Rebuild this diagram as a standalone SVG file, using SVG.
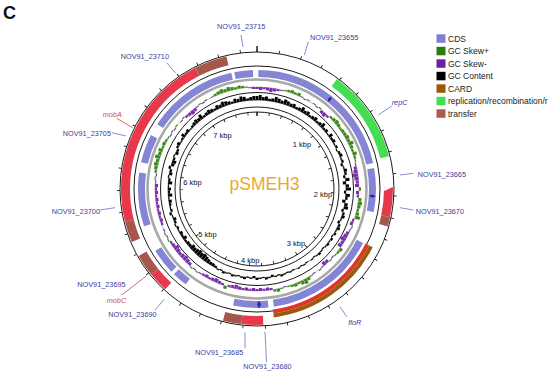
<svg xmlns="http://www.w3.org/2000/svg" width="550" height="374" viewBox="0 0 550 374">
<style>
text{font-family:"Liberation Sans",Arial,sans-serif}
.lb{font-size:7.3px;fill:#40409a}
.it{font-style:italic}
.red{fill:#c85050}
.kb{font-size:7.5px;fill:#111;text-anchor:middle}
.lg{font-size:8.5px;fill:#222}
.ring{fill:none;stroke:#000;stroke-width:0.9}
.arc{fill:none}
.cds{stroke:#8585d6;stroke-width:7}
.tr{stroke:#e8384c;stroke-width:9}
.trb{stroke:#a4574a;stroke-width:9}
.rep{stroke:#47dd52;stroke-width:9}
.card{stroke:#9a5a0e;stroke-width:4}
.cardr{stroke:#e0362a;stroke-width:4}
.gcc path{stroke:#000;stroke-width:2.9;fill:none}
.skp path{stroke:#3a8a14;stroke-width:3.3;fill:none}
.skn path{stroke:#7d2eb0;stroke-width:3.3;fill:none}
.ptr{stroke:#6e6ec0;stroke-width:0.8;fill:none}
.ptrr{stroke:#b84a4a;stroke-width:0.8;fill:none}
</style>
<rect width="550" height="374" fill="#fff"/>
<text x="3" y="18.5" font-size="18" font-weight="bold" fill="#111">C</text>

<g id="map" transform="translate(257,189)">
  <g id="backbone">
    <circle class="ring" r="137"/>
    <circle class="ring" r="123"/>
    <circle r="109.5" fill="none" stroke="#a8a8a8" stroke-width="2.6"/>
    <circle class="ring" r="96.5"/>
    <circle class="ring" r="82"/>
    <circle class="ring" r="77"/>
    <circle r="102" fill="none" stroke="#7a7a7a" stroke-width="0.5"/>
    <circle r="89" fill="none" stroke="#000" stroke-width="0.6"/>
    <g transform="rotate(-90)">
      <circle r="138.5" pathLength="7750" fill="none" stroke="#000" stroke-width="3" stroke-dasharray="7 193" stroke-dashoffset="3.5"/>
      <circle r="75.5" pathLength="7750" fill="none" stroke="#000" stroke-width="3" stroke-dasharray="12 188" stroke-dashoffset="6"/>
    </g>
    <path d="M0-137v-6M0-77v4" stroke="#000" stroke-width="1.3"/>
  </g>

  <g id="gc-content" class="gcc">
    <path transform="rotate(0)" d="M0-89v-4"/><path transform="rotate(2)" d="M0-89v-5"/><path transform="rotate(4)" d="M0-89v-3"/><path transform="rotate(6)" d="M0-89v-4"/><path transform="rotate(8)" d="M0-89v-2"/><path transform="rotate(10)" d="M0-89v-3"/><path transform="rotate(12)" d="M0-89v-5"/><path transform="rotate(14)" d="M0-89v-4"/><path transform="rotate(16)" d="M0-89v-3"/><path transform="rotate(18)" d="M0-89v-5"/><path transform="rotate(20)" d="M0-89v-4"/><path transform="rotate(22)" d="M0-89v-3"/><path transform="rotate(24)" d="M0-89v-4"/><path transform="rotate(26)" d="M0-89v-2"/><path transform="rotate(28)" d="M0-89v-3"/><path transform="rotate(30)" d="M0-89v-5"/><path transform="rotate(32)" d="M0-89v-3"/><path transform="rotate(34)" d="M0-89v-4"/><path transform="rotate(36)" d="M0-89v-2"/><path transform="rotate(38)" d="M0-89v-3"/><path transform="rotate(40)" d="M0-89v-4"/><path transform="rotate(42)" d="M0-89v-2"/><path transform="rotate(44)" d="M0-89v-3"/><path transform="rotate(46)" d="M0-89v-5"/><path transform="rotate(48)" d="M0-89v-2"/><path transform="rotate(50)" d="M0-89v-3"/><path transform="rotate(52)" d="M0-89v-1"/><path transform="rotate(54)" d="M0-89v-4"/><path transform="rotate(56)" d="M0-89v-2"/><path transform="rotate(58)" d="M0-89v-3"/><path transform="rotate(60)" d="M0-89v-1"/><path transform="rotate(62)" d="M0-89v-2"/><path transform="rotate(66)" d="M0-89v-2"/><path transform="rotate(68)" d="M0-89v-3"/><path transform="rotate(70)" d="M0-89v-1"/><path transform="rotate(72)" d="M0-89v-2"/><path transform="rotate(76)" d="M0-89v-1"/><path transform="rotate(78)" d="M0-89v-3"/><path transform="rotate(80)" d="M0-89v-2"/><path transform="rotate(84)" d="M0-89v-4"/><path transform="rotate(88)" d="M0-89v-3"/><path transform="rotate(90)" d="M0-89v-5"/><path transform="rotate(94)" d="M0-89v-4"/><path transform="rotate(96)" d="M0-89v-2"/><path transform="rotate(100)" d="M0-89v-3"/><path transform="rotate(102)" d="M0-89v-4"/><path transform="rotate(106)" d="M0-89v-2"/><path transform="rotate(108)" d="M0-89v-3"/><path transform="rotate(110)" d="M0-89v-1"/><path transform="rotate(114)" d="M0-89v-2"/><path transform="rotate(116)" d="M0-89v-3"/><path transform="rotate(118)" d="M0-89v-1"/><path transform="rotate(120)" d="M0-89v-2"/><path transform="rotate(124)" d="M0-89v-2"/><path transform="rotate(126)" d="M0-89v-1"/><path transform="rotate(128)" d="M0-89v-2"/><path transform="rotate(130)" d="M0-89v-1"/><path transform="rotate(134)" d="M0-89v-1"/><path transform="rotate(136)" d="M0-89v-2"/><path transform="rotate(138)" d="M0-89v-1"/><path transform="rotate(142)" d="M0-89v-1"/><path transform="rotate(148)" d="M0-89v-1"/><path transform="rotate(152)" d="M0-89v-1"/><path transform="rotate(158)" d="M0-89v-1"/><path transform="rotate(162)" d="M0-89v-1"/><path transform="rotate(164)" d="M0-89v-2"/><path transform="rotate(168)" d="M0-89v-1"/><path transform="rotate(172)" d="M0-89v-1"/><path transform="rotate(174)" d="M0-89v-2"/><path transform="rotate(178)" d="M0-89v-1"/><path transform="rotate(180)" d="M0-89v-2"/><path transform="rotate(184)" d="M0-89v-1"/><path transform="rotate(188)" d="M0-89v-2"/><path transform="rotate(190)" d="M0-89v-1"/><path transform="rotate(194)" d="M0-89v-1"/><path transform="rotate(196)" d="M0-89v-2"/><path transform="rotate(200)" d="M0-89v-1"/><path transform="rotate(202)" d="M0-89v-2"/><path transform="rotate(206)" d="M0-89v-1"/><path transform="rotate(246)" d="M0-89v-1"/><path transform="rotate(254)" d="M0-89v-2"/><path transform="rotate(278)" d="M0-89v-1"/><path transform="rotate(284)" d="M0-89v-2"/><path transform="rotate(292)" d="M0-89v-1"/><path transform="rotate(298)" d="M0-89v-2"/><path transform="rotate(300)" d="M0-89v-3"/><path transform="rotate(302)" d="M0-89v-1"/><path transform="rotate(304)" d="M0-89v-2"/><path transform="rotate(306)" d="M0-89v-4"/><path transform="rotate(308)" d="M0-89v-2"/><path transform="rotate(310)" d="M0-89v-3"/><path transform="rotate(312)" d="M0-89v-1"/><path transform="rotate(314)" d="M0-89v-2"/><path transform="rotate(316)" d="M0-89v-3"/><path transform="rotate(318)" d="M0-89v-4"/><path transform="rotate(320)" d="M0-89v-3"/><path transform="rotate(322)" d="M0-89v-5"/><path transform="rotate(324)" d="M0-89v-2"/><path transform="rotate(326)" d="M0-89v-3"/><path transform="rotate(328)" d="M0-89v-4"/><path transform="rotate(330)" d="M0-89v-3"/><path transform="rotate(332)" d="M0-89v-2"/><path transform="rotate(334)" d="M0-89v-4"/><path transform="rotate(336)" d="M0-89v-3"/><path transform="rotate(338)" d="M0-89v-5"/><path transform="rotate(340)" d="M0-89v-4"/><path transform="rotate(342)" d="M0-89v-3"/><path transform="rotate(344)" d="M0-89v-2"/><path transform="rotate(346)" d="M0-89v-4"/><path transform="rotate(348)" d="M0-89v-3"/><path transform="rotate(350)" d="M0-89v-5"/><path transform="rotate(352)" d="M0-89v-4"/><path transform="rotate(354)" d="M0-89v-2"/><path transform="rotate(356)" d="M0-89v-3"/><path transform="rotate(358)" d="M0-89v-4"/>
    <path transform="rotate(64)" d="M0-89v1"/><path transform="rotate(74)" d="M0-89v2"/><path transform="rotate(82)" d="M0-89v2"/><path transform="rotate(86)" d="M0-89v3"/><path transform="rotate(92)" d="M0-89v2"/><path transform="rotate(98)" d="M0-89v3"/><path transform="rotate(104)" d="M0-89v2"/><path transform="rotate(112)" d="M0-89v2"/><path transform="rotate(122)" d="M0-89v1"/><path transform="rotate(132)" d="M0-89v1"/><path transform="rotate(140)" d="M0-89v1"/><path transform="rotate(146)" d="M0-89v1"/><path transform="rotate(150)" d="M0-89v1"/><path transform="rotate(156)" d="M0-89v1"/><path transform="rotate(160)" d="M0-89v1"/><path transform="rotate(166)" d="M0-89v1"/><path transform="rotate(170)" d="M0-89v2"/><path transform="rotate(176)" d="M0-89v1"/><path transform="rotate(182)" d="M0-89v2"/><path transform="rotate(186)" d="M0-89v1"/><path transform="rotate(192)" d="M0-89v1"/><path transform="rotate(198)" d="M0-89v1"/><path transform="rotate(204)" d="M0-89v1"/><path transform="rotate(208)" d="M0-89v2"/><path transform="rotate(210)" d="M0-89v3"/><path transform="rotate(212)" d="M0-89v3"/><path transform="rotate(214)" d="M0-89v4"/><path transform="rotate(216)" d="M0-89v5"/><path transform="rotate(218)" d="M0-89v6"/><path transform="rotate(220)" d="M0-89v5"/><path transform="rotate(222)" d="M0-89v6"/><path transform="rotate(224)" d="M0-89v5"/><path transform="rotate(226)" d="M0-89v4"/><path transform="rotate(228)" d="M0-89v5"/><path transform="rotate(230)" d="M0-89v3"/><path transform="rotate(232)" d="M0-89v3"/><path transform="rotate(234)" d="M0-89v2"/><path transform="rotate(236)" d="M0-89v4"/><path transform="rotate(238)" d="M0-89v2"/><path transform="rotate(240)" d="M0-89v3"/><path transform="rotate(242)" d="M0-89v1"/><path transform="rotate(244)" d="M0-89v2"/><path transform="rotate(248)" d="M0-89v2"/><path transform="rotate(250)" d="M0-89v3"/><path transform="rotate(252)" d="M0-89v1"/><path transform="rotate(256)" d="M0-89v2"/><path transform="rotate(258)" d="M0-89v1"/><path transform="rotate(260)" d="M0-89v2"/><path transform="rotate(262)" d="M0-89v3"/><path transform="rotate(264)" d="M0-89v1"/><path transform="rotate(266)" d="M0-89v4"/><path transform="rotate(268)" d="M0-89v2"/><path transform="rotate(270)" d="M0-89v3"/><path transform="rotate(272)" d="M0-89v1"/><path transform="rotate(274)" d="M0-89v4"/><path transform="rotate(276)" d="M0-89v2"/><path transform="rotate(280)" d="M0-89v3"/><path transform="rotate(282)" d="M0-89v2"/><path transform="rotate(286)" d="M0-89v3"/><path transform="rotate(288)" d="M0-89v4"/><path transform="rotate(290)" d="M0-89v2"/><path transform="rotate(294)" d="M0-89v3"/><path transform="rotate(296)" d="M0-89v2"/>
  </g>

  <g id="gc-skew-plus" class="skp">
    <path transform="rotate(16)" d="M0-102v-1"/><path transform="rotate(18)" d="M0-102v-2"/><path transform="rotate(20)" d="M0-102v-3"/><path transform="rotate(22)" d="M0-102v-2"/><path transform="rotate(24)" d="M0-102v-3"/><path transform="rotate(26)" d="M0-102v-1"/><path transform="rotate(30)" d="M0-102v-1"/><path transform="rotate(34)" d="M0-102v-1"/><path transform="rotate(38)" d="M0-102v-1"/><path transform="rotate(46)" d="M0-102v-2"/><path transform="rotate(48)" d="M0-102v-3"/><path transform="rotate(50)" d="M0-102v-4"/><path transform="rotate(52)" d="M0-102v-3"/><path transform="rotate(54)" d="M0-102v-2"/><path transform="rotate(56)" d="M0-102v-3"/><path transform="rotate(58)" d="M0-102v-3"/><path transform="rotate(60)" d="M0-102v-4"/><path transform="rotate(62)" d="M0-102v-3"/><path transform="rotate(64)" d="M0-102v-5"/><path transform="rotate(66)" d="M0-102v-3"/><path transform="rotate(68)" d="M0-102v-2"/><path transform="rotate(70)" d="M0-102v-4"/><path transform="rotate(72)" d="M0-102v-2"/><path transform="rotate(74)" d="M0-102v-1"/><path transform="rotate(90)" d="M0-102v-2"/><path transform="rotate(96)" d="M0-102v-3"/><path transform="rotate(98)" d="M0-102v-4"/><path transform="rotate(100)" d="M0-102v-3"/><path transform="rotate(102)" d="M0-102v-2"/><path transform="rotate(104)" d="M0-102v-3"/><path transform="rotate(106)" d="M0-102v-5"/><path transform="rotate(112)" d="M0-102v-1"/><path transform="rotate(126)" d="M0-102v-3"/><path transform="rotate(128)" d="M0-102v-2"/><path transform="rotate(130)" d="M0-102v-1"/><path transform="rotate(134)" d="M0-102v-1"/><path transform="rotate(142)" d="M0-102v-1"/><path transform="rotate(148)" d="M0-102v-1"/><path transform="rotate(150)" d="M0-102v-3"/><path transform="rotate(152)" d="M0-102v-5"/><path transform="rotate(154)" d="M0-102v-4"/><path transform="rotate(156)" d="M0-102v-2"/><path transform="rotate(158)" d="M0-102v-3"/><path transform="rotate(160)" d="M0-102v-2"/><path transform="rotate(162)" d="M0-102v-1"/><path transform="rotate(166)" d="M0-102v-1"/><path transform="rotate(168)" d="M0-102v-3"/><path transform="rotate(170)" d="M0-102v-2"/><path transform="rotate(198)" d="M0-102v-3"/><path transform="rotate(216)" d="M0-102v-1"/><path transform="rotate(220)" d="M0-102v-1"/><path transform="rotate(240)" d="M0-102v-1"/><path transform="rotate(244)" d="M0-102v-1"/><path transform="rotate(276)" d="M0-102v-1"/><path transform="rotate(280)" d="M0-102v-2"/><path transform="rotate(282)" d="M0-102v-3"/><path transform="rotate(284)" d="M0-102v-4"/><path transform="rotate(286)" d="M0-102v-3"/><path transform="rotate(288)" d="M0-102v-5"/><path transform="rotate(290)" d="M0-102v-3"/><path transform="rotate(292)" d="M0-102v-4"/><path transform="rotate(294)" d="M0-102v-2"/><path transform="rotate(296)" d="M0-102v-3"/><path transform="rotate(298)" d="M0-102v-2"/><path transform="rotate(300)" d="M0-102v-1"/><path transform="rotate(304)" d="M0-102v-1"/><path transform="rotate(308)" d="M0-102v-1"/><path transform="rotate(314)" d="M0-102v-1"/><path transform="rotate(326)" d="M0-102v-1"/><path transform="rotate(330)" d="M0-102v-1"/><path transform="rotate(334)" d="M0-102v-1"/><path transform="rotate(336)" d="M0-102v-2"/><path transform="rotate(338)" d="M0-102v-3"/><path transform="rotate(340)" d="M0-102v-4"/><path transform="rotate(342)" d="M0-102v-3"/><path transform="rotate(344)" d="M0-102v-4"/><path transform="rotate(346)" d="M0-102v-3"/><path transform="rotate(348)" d="M0-102v-2"/><path transform="rotate(350)" d="M0-102v-3"/><path transform="rotate(352)" d="M0-102v-2"/><path transform="rotate(354)" d="M0-102v-1"/>
  </g>
  <g id="gc-skew-minus" class="skn">
    <path transform="rotate(0)" d="M0-102v2"/><path transform="rotate(2)" d="M0-102v3"/><path transform="rotate(4)" d="M0-102v2"/><path transform="rotate(6)" d="M0-102v3"/><path transform="rotate(8)" d="M0-102v4"/><path transform="rotate(10)" d="M0-102v3"/><path transform="rotate(12)" d="M0-102v2"/><path transform="rotate(14)" d="M0-102v1"/><path transform="rotate(28)" d="M0-102v1"/><path transform="rotate(36)" d="M0-102v1"/><path transform="rotate(40)" d="M0-102v3"/><path transform="rotate(42)" d="M0-102v4"/><path transform="rotate(44)" d="M0-102v2"/><path transform="rotate(76)" d="M0-102v1"/><path transform="rotate(78)" d="M0-102v3"/><path transform="rotate(80)" d="M0-102v4"/><path transform="rotate(82)" d="M0-102v5"/><path transform="rotate(84)" d="M0-102v4"/><path transform="rotate(86)" d="M0-102v3"/><path transform="rotate(88)" d="M0-102v4"/><path transform="rotate(92)" d="M0-102v3"/><path transform="rotate(94)" d="M0-102v2"/><path transform="rotate(108)" d="M0-102v2"/><path transform="rotate(110)" d="M0-102v3"/><path transform="rotate(114)" d="M0-102v1"/><path transform="rotate(116)" d="M0-102v3"/><path transform="rotate(118)" d="M0-102v4"/><path transform="rotate(120)" d="M0-102v5"/><path transform="rotate(122)" d="M0-102v3"/><path transform="rotate(124)" d="M0-102v4"/><path transform="rotate(132)" d="M0-102v1"/><path transform="rotate(136)" d="M0-102v3"/><path transform="rotate(138)" d="M0-102v4"/><path transform="rotate(140)" d="M0-102v1"/><path transform="rotate(146)" d="M0-102v1"/><path transform="rotate(164)" d="M0-102v1"/><path transform="rotate(172)" d="M0-102v2"/><path transform="rotate(174)" d="M0-102v3"/><path transform="rotate(176)" d="M0-102v2"/><path transform="rotate(178)" d="M0-102v3"/><path transform="rotate(180)" d="M0-102v2"/><path transform="rotate(182)" d="M0-102v3"/><path transform="rotate(184)" d="M0-102v2"/><path transform="rotate(186)" d="M0-102v3"/><path transform="rotate(188)" d="M0-102v2"/><path transform="rotate(190)" d="M0-102v3"/><path transform="rotate(192)" d="M0-102v4"/><path transform="rotate(194)" d="M0-102v3"/><path transform="rotate(196)" d="M0-102v2"/><path transform="rotate(200)" d="M0-102v2"/><path transform="rotate(202)" d="M0-102v3"/><path transform="rotate(204)" d="M0-102v4"/><path transform="rotate(206)" d="M0-102v3"/><path transform="rotate(208)" d="M0-102v2"/><path transform="rotate(210)" d="M0-102v3"/><path transform="rotate(212)" d="M0-102v2"/><path transform="rotate(214)" d="M0-102v1"/><path transform="rotate(218)" d="M0-102v1"/><path transform="rotate(222)" d="M0-102v3"/><path transform="rotate(224)" d="M0-102v4"/><path transform="rotate(226)" d="M0-102v5"/><path transform="rotate(228)" d="M0-102v4"/><path transform="rotate(230)" d="M0-102v3"/><path transform="rotate(232)" d="M0-102v4"/><path transform="rotate(234)" d="M0-102v5"/><path transform="rotate(236)" d="M0-102v3"/><path transform="rotate(238)" d="M0-102v2"/><path transform="rotate(242)" d="M0-102v1"/><path transform="rotate(246)" d="M0-102v1"/><path transform="rotate(250)" d="M0-102v2"/><path transform="rotate(252)" d="M0-102v3"/><path transform="rotate(254)" d="M0-102v2"/><path transform="rotate(256)" d="M0-102v3"/><path transform="rotate(258)" d="M0-102v2"/><path transform="rotate(260)" d="M0-102v3"/><path transform="rotate(262)" d="M0-102v2"/><path transform="rotate(264)" d="M0-102v3"/><path transform="rotate(266)" d="M0-102v2"/><path transform="rotate(268)" d="M0-102v3"/><path transform="rotate(270)" d="M0-102v2"/><path transform="rotate(272)" d="M0-102v3"/><path transform="rotate(274)" d="M0-102v1"/><path transform="rotate(278)" d="M0-102v1"/><path transform="rotate(302)" d="M0-102v1"/><path transform="rotate(306)" d="M0-102v1"/><path transform="rotate(312)" d="M0-102v1"/><path transform="rotate(316)" d="M0-102v2"/><path transform="rotate(318)" d="M0-102v3"/><path transform="rotate(320)" d="M0-102v4"/><path transform="rotate(322)" d="M0-102v3"/><path transform="rotate(324)" d="M0-102v1"/><path transform="rotate(328)" d="M0-102v1"/><path transform="rotate(356)" d="M0-102v1"/><path transform="rotate(358)" d="M0-102v2"/>
  </g>

  <g id="features" transform="rotate(-90)">
    <g id="cds">
      <circle class="arc cds" r="115.5" pathLength="360" stroke-dasharray="0 0.7 76.7 282.6"/>
      <circle class="arc cds" r="115.5" pathLength="360" stroke-dasharray="0 79.8 21.4 258.8"/>
      <circle class="arc cds" r="115.5" pathLength="360" stroke-dasharray="0 117 54.8 188.2"/>
      <circle class="arc cds" r="115.5" pathLength="360" stroke-dasharray="0 174.4 17.2 168.4"/>
      <circle class="arc cds" r="115.5" pathLength="360" stroke-dasharray="0 216.8 7.5 135.7"/>
      <circle class="arc cds" r="115.5" pathLength="360" stroke-dasharray="0 226 12.7 121.3"/>
      <circle class="arc cds" r="115.5" pathLength="360" stroke-dasharray="0 251.7 26.3 82"/>
      <circle class="arc cds" r="115.5" pathLength="360" stroke-dasharray="0 283 14 63"/>
      <circle class="arc cds" r="115.5" pathLength="360" stroke-dasharray="0 303 44.5 12.5"/>
      <circle class="arc cds" r="115.5" pathLength="360" stroke-dasharray="0 349 9 2"/>
    </g>
    <g id="card-floR">
      <circle class="arc cardr" r="123.5" pathLength="360" stroke-dasharray="0 116.7 55.8 187.5"/>
      <circle class="arc card" r="127.5" pathLength="360" stroke-dasharray="0 116.7 55.8 187.5"/>
    </g>
    <g id="transfer-left">
      <circle class="arc trb" r="131.5" pathLength="360" stroke-dasharray="0 247 9 104"/>
      <circle class="arc tr" r="131.5" pathLength="360" stroke-dasharray="0 256 77 27"/>
      <circle class="arc trb" r="131.5" pathLength="360" stroke-dasharray="0 333 14 13"/>
    </g>
    <g id="replication-repC">
      <circle class="arc rep" r="131.5" pathLength="360" stroke-dasharray="0 36 40 284"/>
    </g>
    <g id="transfer-23670">
      <circle class="arc tr" r="131.5" pathLength="360" stroke-dasharray="0 90 12 258"/>
      <circle class="arc trb" r="131.5" pathLength="360" stroke-dasharray="0 102 4 254"/>
    </g>
    <g id="transfer-mobC">
      <circle class="arc tr" r="131.5" pathLength="360" stroke-dasharray="0 222.5 8.5 129"/>
      <circle class="arc trb" r="131.5" pathLength="360" stroke-dasharray="0 231 9.5 119.5"/>
    </g>
    <g id="transfer-23685">
      <circle class="arc tr" r="131.5" pathLength="360" stroke-dasharray="0 177.3 9.3 173.4"/>
      <circle class="arc trb" r="131.5" pathLength="360" stroke-dasharray="0 186.6 7.9 165.5"/>
    </g>
  </g>
  <g id="cds-marks" fill="#2a2aa8">
    <path transform="rotate(39)" d="M0-119l1.6 3.5-1.6 3.5-1.6-3.5z"/>
    <path transform="rotate(93.5)" d="M0-119l1.6 3.5-1.6 3.5-1.6-3.5z"/>
    <path transform="rotate(179)" d="M0-119.5l2 4-2 4-2-4z"/>
  </g>
</g>

<g id="kbp-labels">
  <text class="kb" x="302" y="146.7">1 kbp</text>
  <text class="kb" x="323" y="197.3">2 kbp</text>
  <text class="kb" x="296" y="246">3 kbp</text>
  <text class="kb" x="250.3" y="263">4 kbp</text>
  <text class="kb" x="207.5" y="236.5">5 kbp</text>
  <text class="kb" x="192.5" y="184.5">6 kbp</text>
  <text class="kb" x="222.5" y="137.7">7 kbp</text>
</g>

<text id="title" x="264.5" y="189.5" font-size="17.5" fill="#e9a92c" text-anchor="middle">pSMEH3</text>

<g id="connectors">
  <path class="ptr" d="M241 35L243 47"/>
  <path class="ptr" d="M166.7 62.7L175.7 73.3"/>
  <path class="ptrr" d="M116.7 118.3L132.7 127.7"/>
  <path class="ptr" d="M111.7 132.7L126 136"/>
  <path class="ptr" d="M100 210L115 207.7"/>
  <path class="ptrr" d="M121.7 295L146.7 275.7"/>
  <path class="ptr" d="M155 310L164.3 299.3"/>
  <path class="ptr" d="M245 348.3L245 332.3"/>
  <path class="ptr" d="M266.5 362L265 331.7"/>
  <path class="ptr" d="M308.3 41.7L304.3 55"/>
  <path class="ptr" d="M391.7 106L378.3 115"/>
  <path class="ptr" d="M400 175L413.3 173.3"/>
  <path class="ptr" d="M400 207.7L413.3 210"/>
  <path class="ptr" d="M340 306.7L346.7 316.7"/>
</g>

<g id="labels">
  <g id="lab-23715"><text class="lb" x="217" y="29">NOV91_23715</text></g>
  <g id="lab-23710"><text class="lb" x="120.7" y="58.5">NOV91_23710</text></g>
  <g id="lab-mobA"><text class="lb it red" x="102.7" y="117">mobA</text></g>
  <g id="lab-23705"><text class="lb" x="62.7" y="135.5">NOV91_23705</text></g>
  <g id="lab-23700"><text class="lb" x="51.7" y="214">NOV91_23700</text></g>
  <g id="lab-23695"><text class="lb" x="77.3" y="286.5">NOV91_23695</text></g>
  <g id="lab-mobC"><text class="lb it red" x="106.7" y="303">mobC</text></g>
  <g id="lab-23690"><text class="lb" x="108.3" y="317">NOV91_23690</text></g>
  <g id="lab-23685"><text class="lb" x="195" y="355">NOV91_23685</text></g>
  <g id="lab-23680"><text class="lb" x="243.3" y="369">NOV91_23680</text></g>
  <g id="lab-23655"><text class="lb" x="310" y="40">NOV91_23655</text></g>
  <g id="lab-repC"><text class="lb it" x="391.7" y="105">repC</text></g>
  <g id="lab-23665"><text class="lb" x="417.7" y="177">NOV91_23665</text></g>
  <g id="lab-23670"><text class="lb" x="415.7" y="214">NOV91_23670</text></g>
  <g id="lab-floR"><text class="lb it" x="348.3" y="325">floR</text></g>
</g>

<g id="legend">
  <rect x="436.5" y="34.3" width="9" height="8.5" fill="#8080d0"/><text class="lg" x="448" y="41.6">CDS</text>
  <rect x="436.5" y="46.8" width="9" height="8.5" fill="#2f7a10"/><text class="lg" x="448" y="54.1">GC Skew+</text>
  <rect x="436.5" y="59.3" width="9" height="8.5" fill="#6e1fa0"/><text class="lg" x="448" y="66.6">GC Skew-</text>
  <rect x="436.5" y="71.8" width="9" height="8.5" fill="#000"/><text class="lg" x="448" y="79.1">GC Content</text>
  <rect x="436.5" y="84.3" width="9" height="8.5" fill="#995a08"/><text class="lg" x="448" y="91.6">CARD</text>
  <rect x="436.5" y="96.8" width="9" height="8.5" fill="#40e050"/><text class="lg" x="448" y="104.1">replication/recombination/r</text>
  <rect x="436.5" y="109.3" width="9" height="8.5" fill="#b05a50"/><text class="lg" x="448" y="116.6">transfer</text>
</g>
</svg>
